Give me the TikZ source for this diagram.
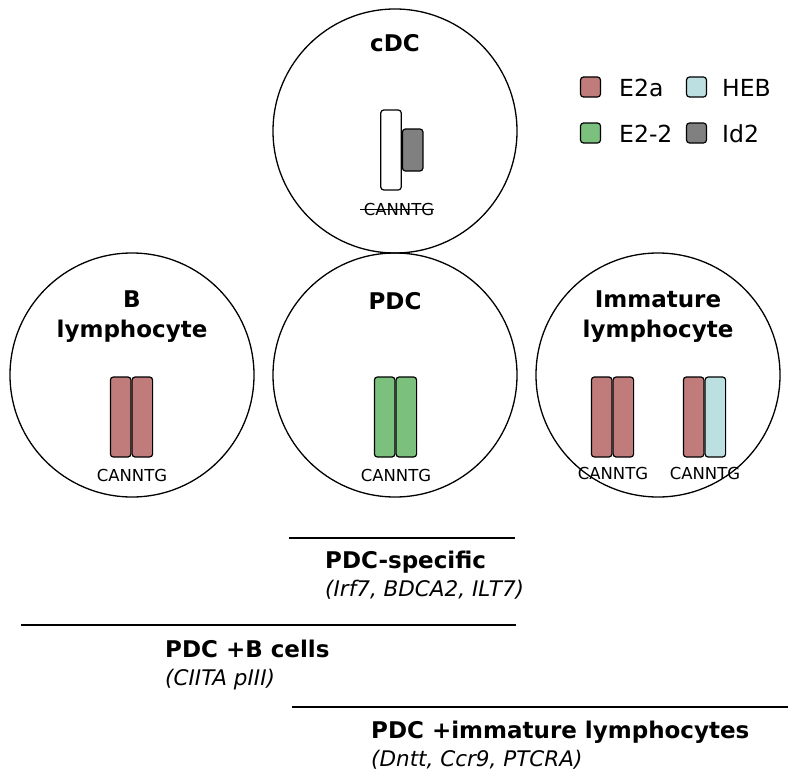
\documentclass[tikz,border=0pt]{standalone}
\usepackage{fontspec}
\setmainfont{DejaVu Sans}
\usetikzlibrary{positioning}
\definecolor{ctea}{HTML}{C07B7B}
\definecolor{cheb}{HTML}{BCE0E2}
\definecolor{cetwo}{HTML}{7BC07D}
\definecolor{cidtwo}{HTML}{808080}
\tikzset{
  cell/.style={circle, draw, line width=1.3bp, minimum size=244bp, inner sep=0pt},
  bar/.style={draw, line width=1.2bp, rounded corners=3bp, minimum width=20.5bp, minimum height=80bp, inner sep=0pt},
  idbar/.style={bar, fill=cidtwo, minimum height=42bp},
  title/.style={font=\fontsize{23bp}{29bp}\selectfont\bfseries, align=center, inner sep=0pt},
  motif/.style={font=\fontsize{16.5bp}{19bp}\selectfont, inner sep=0pt},
  legsq/.style={draw, line width=1.2bp, rounded corners=3bp, minimum size=20bp, inner sep=0pt},
  legtxt/.style={font=\fontsize{23.5bp}{27bp}\selectfont, anchor=west, inner sep=0pt},
  grp/.style={font=\fontsize{23bp}{28bp}\selectfont\bfseries, anchor=west, inner sep=0pt},
  genes/.style={font=\fontsize{21.5bp}{25bp}\selectfont\itshape, anchor=west, inner sep=0pt},
  rule/.style={line width=1.6bp}
}
\begin{document}
\begin{tikzpicture}[x=1bp,y=-1bp]
\useasboundingbox (0,0) rectangle (800,780);
% cells
\node[cell] (cdc) at (395,131) {};
\node[cell] (bl) at (132,375) {};
\node[cell] (pdc) at (395,375) {};
\node[cell] (iml) at (658,375) {};
% titles
\node[title] (tcdc) at (395,43) {cDC};
\node[title] (tb) at (132,317) {B\\[1bp]lymphocyte};
\node[title] (tpdc) at (395,301) {PDC};
\node[title] (timl) at (658,317) {Immature\\[1bp]lymphocyte};
% cDC bars
\node[bar, fill=white] (cw) at (391,150) {};
\node[idbar, anchor=west] (cg) at (cw.east) {};
\node[motif] (mcdc) at (399,209) {CANNTG};
\draw[line width=1bp] (mcdc.west) ++(-4bp,0) coordinate (sa) -- (mcdc.east |- sa) coordinate (sb);
% B bars
\node[bar, fill=ctea, anchor=east] (b1) at (131.5,417) {};
\node[bar, fill=ctea, anchor=west] (b2) at (b1.east) {};
\node[motif] (mb) at (132,475) {CANNTG};
% PDC bars
\node[bar, fill=cetwo, anchor=east] (p1) at (395.5,417) {};
\node[bar, fill=cetwo, anchor=west] (p2) at (p1.east) {};
\node[motif] (mp) at (396,475) {CANNTG};
% Immature bars
\node[bar, fill=ctea, anchor=east] (i1) at (612.5,417) {};
\node[bar, fill=ctea, anchor=west] (i2) at (i1.east) {};
\node[motif] (mi1) at (613,473) {CANNTG};
\node[bar, fill=ctea, anchor=east] (i3) at (704.5,417) {};
\node[bar, fill=cheb, anchor=west] (i4) at (i3.east) {};
\node[motif] (mi2) at (705,473) {CANNTG};
% legend
\node[legsq, fill=ctea] (la) at (590.5,87) {};
\node[legtxt] (lat) at (619,88) {E2a};
\node[legsq, fill=cheb] (lb) at (696.5,87) {};
\node[legtxt] (lbt) at (722,88) {HEB};
\node[legsq, fill=cetwo] (lc) at (590.5,133) {};
\node[legtxt] (lct) at (619,134) {E2-2};
\node[legsq, fill=cidtwo] (ld) at (696.5,133) {};
\node[legtxt] (ldt) at (722,134) {Id2};
% groups
\coordinate (r1a) at (289,538); \coordinate (r1b) at (515,538);
\draw[rule] (r1a) -- (r1b);
\node[grp] (g1) at (325,562) {PDC-specific};
\node[genes] (g1g) at (325,590) {(Irf7, BDCA2, ILT7)};
\coordinate (r2a) at (21,625); \coordinate (r2b) at (516,625);
\draw[rule] (r2a) -- (r2b);
\node[grp] (g2) at (165,649) {PDC +B cells};
\node[genes] (g2g) at (165,680) {(CIITA pIII)};
\coordinate (r3a) at (292,707); \coordinate (r3b) at (788,707);
\draw[rule] (r3a) -- (r3b);
\node[grp] (g3) at (371,732) {PDC +immature lymphocytes};
\node[genes] (g3g) at (371,760) {(Dntt, Ccr9, PTCRA)};
\end{tikzpicture}
\end{document}
